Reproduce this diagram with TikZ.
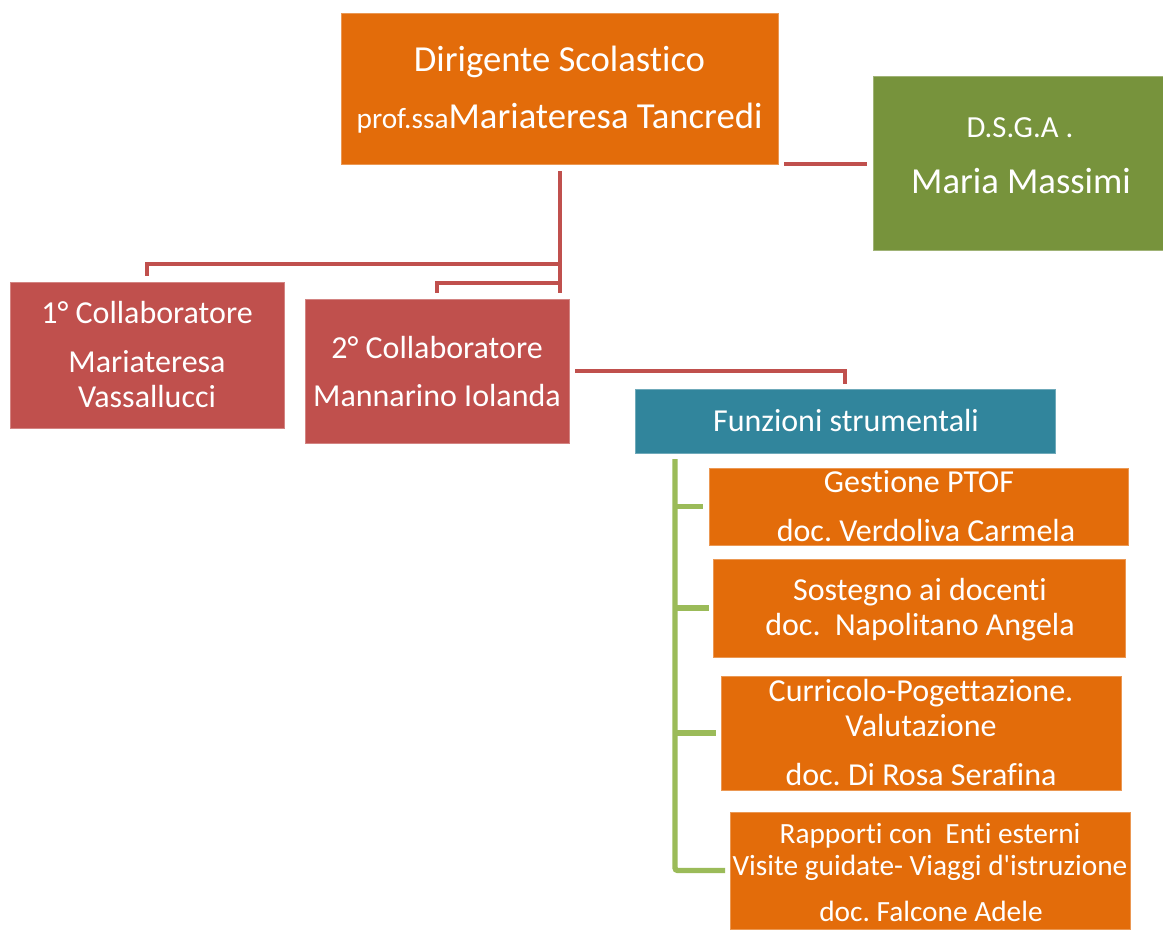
\documentclass[tikz,border=0pt]{standalone}
\usepackage{fontspec}
\setmainfont{Carlito}[Ligatures={TeXOff,NoCommon}]
\usetikzlibrary{fit}
\definecolor{orfill}{HTML}{E36C0A}
\definecolor{grfill}{HTML}{77933C}
\definecolor{rdfill}{HTML}{C0504D}
\definecolor{tlfill}{HTML}{31859C}
\definecolor{trgreen}{HTML}{9BBB59}
\newcommand\szbig{\fontsize{27.5pt}{30pt}\selectfont}
\newcommand\szpro{\fontsize{22pt}{26pt}\selectfont}
\newcommand\szds{\fontsize{23pt}{26pt}\selectfont}
\newcommand\szmed{\fontsize{24pt}{28pt}\selectfont}
\newcommand\szsm{\fontsize{22pt}{26pt}\selectfont}
\frenchspacing
\tikzset{
  box/.style={rectangle, inner sep=0pt, outer sep=0pt, line width=0.6pt},
  orbox/.style={box, fill=orfill, draw=orfill!70!white},
  grbox/.style={box, fill=grfill, draw=grfill!70!white},
  rdbox/.style={box, fill=rdfill, draw=rdfill!70!white},
  tlbox/.style={box, fill=tlfill, draw=tlfill!70!white},
  txt/.style={text=white, inner sep=0pt, anchor=base},
  rline/.style={draw=rdfill, line width=3.6pt},
  gline/.style={draw=trgreen, line width=4pt},
}
\begin{document}
\begin{tikzpicture}[x=0.75pt, y=-0.75pt]
\useasboundingbox (0,0) rectangle (1163,929);
\fill[white] (0,0) rectangle (1163,929);

% boxes
\node[orbox, fit={(341,13) (778,164)}] (dir) {};
\node[grbox, fit={(873,76) (1163,250)}] (dsga) {};
\node[rdbox, fit={(10,282) (284,428)}] (c1) {};
\node[rdbox, fit={(305,299) (569,443)}] (c2) {};
\node[tlbox, fit={(635,389) (1055,453)}] (fs) {};
\node[orbox, fit={(709,468) (1128,545)}] (r1) {};
\node[orbox, fit={(713,559) (1125,657)}] (r2) {};
\node[orbox, fit={(721,676) (1121,790)}] (r3) {};
\node[orbox, fit={(730,812) (1130,929)}] (r4) {};

% texts
\node[txt, font=\szbig] (dirA) at (559.5,71) {Dirigente Scolastico};
\node[txt] (dirB) at (559.5,128) {{\szpro prof.ssa}{\szbig Mariateresa Tancredi}};
\node[txt, font=\szds] (dsgaA) at (1020,137) {D.S.G.A .};
\node[txt, font=\szbig] (dsgaB) at (1021,193) {Maria Massimi};
\node[txt, font=\szmed] (c1A) at (147,323) {1° Collaboratore};
\node[txt, font=\szmed] (c1B) at (147,372) {Mariateresa};
\node[txt, font=\szmed] (c1C) at (147,407) {Vassallucci};
\node[txt, font=\szmed] (c2A) at (437,358) {2° Collaboratore};
\node[txt, font=\szmed] (c2B) at (437,406) {Mannarino Iolanda};
\node[txt, font=\szmed] (fsA) at (846,431) {Funzioni strumentali};
\node[txt, font=\szmed] (r1A) at (919,492) {Gestione PTOF};
\node[txt, font=\szmed] (r1B) at (926,541) {doc. Verdoliva Carmela};
\node[txt, font=\szmed] (r2A) at (920,600) {Sostegno ai docenti};
\node[txt, font=\szmed] (r2B) at (920,635) {doc.~~Napolitano Angela};
\node[txt, font=\szmed] (r3A) at (921,701) {Curricolo-Pogettazione.};
\node[txt, font=\szmed] (r3B) at (921,736) {Valutazione};
\node[txt, font=\szmed] (r3C) at (921,785) {doc. Di Rosa Serafina};
\node[txt, font=\szsm] (r4A) at (930,843) {Rapporti con~~Enti esterni};
\node[txt, font=\szsm] (r4B) at (930,875) {Visite guidate- Viaggi d'istruzione};
\node[txt, font=\szsm] (r4C) at (931,921) {doc. Falcone Adele};

% red connectors
\coordinate (j1) at (560,264);
\coordinate (j2) at (560,283);
\draw[rline, shorten <=5.25pt, shorten >=4.5pt] (dir.south -| j1) -- (c2.north -| j1);
\draw[rline, shorten >=4.5pt] (j1) -| (c1.north);
\draw[rline, shorten >=4.5pt] (j2) -| (c2.north);
\draw[rline, shorten <=4.5pt, shorten >=3.75pt] (c2.east) -| (fs.north);
\draw[rline, shorten <=4.5pt, shorten >=4.5pt] (dir.south east) -- (dir.south east -| dsga.west);

% green tree
\coordinate (trunk) at (675,459);
\draw[gline, rounded corners=2pt, shorten <=4.5pt, shorten >=3.75pt] (fs.south -| trunk) |- (r4.west);
\draw[gline, shorten >=4.5pt] (trunk |- r1.west) -- (r1.west);
\draw[gline, shorten >=3pt] (trunk |- r2.west) -- (r2.west);
\draw[gline, shorten >=3.75pt] (trunk |- r3.west) -- (r3.west);
\end{tikzpicture}
\end{document}
